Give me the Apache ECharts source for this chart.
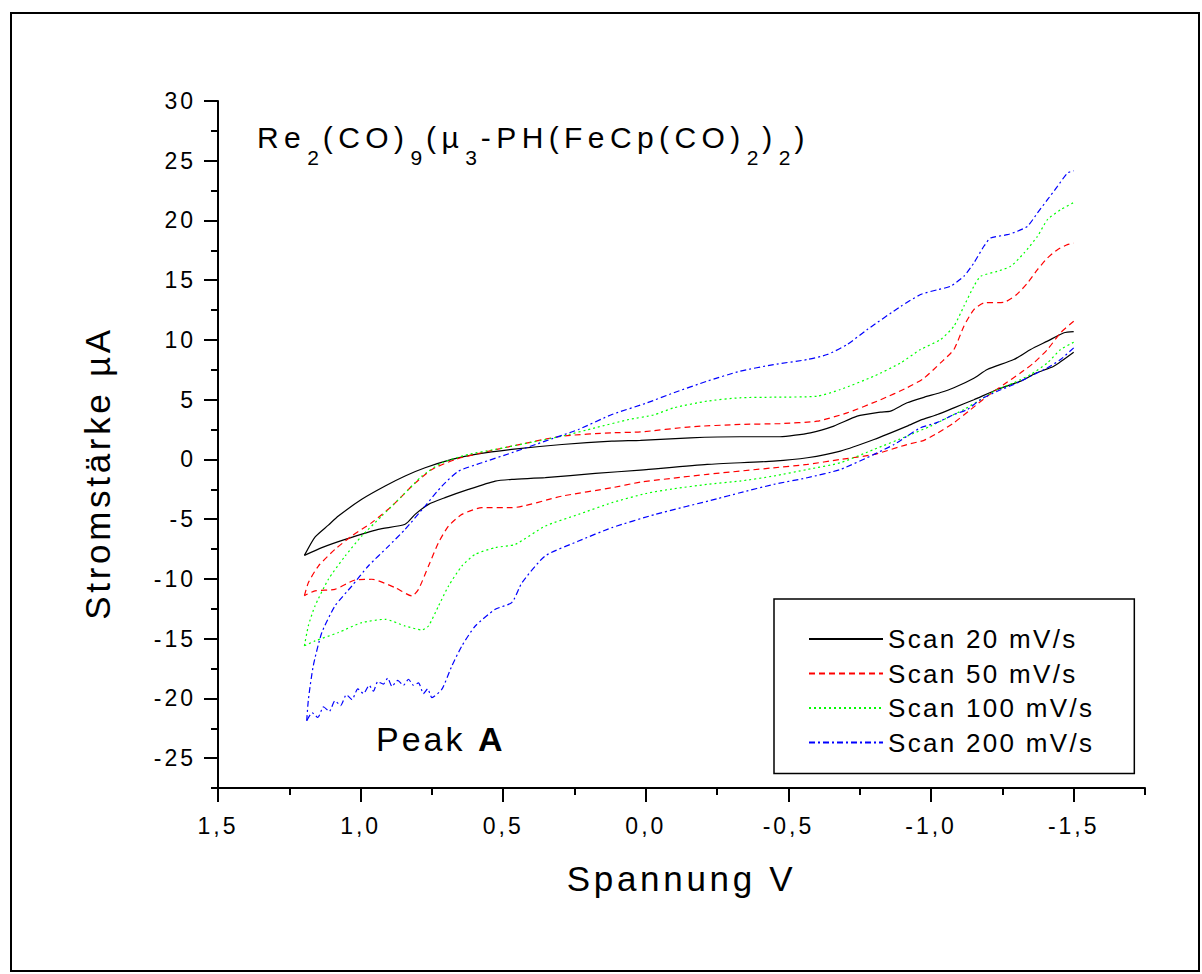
<!DOCTYPE html>
<html>
<head>
<meta charset="utf-8">
<script src="https://cdn.jsdelivr.net/npm/echarts@6/dist/echarts.min.js"></script>
<style>
    html, body { margin: 0; padding: 0; background: #fff; }
    #chart { width: 1202px; height: 974px; }
    /* wide letter spacing of the original export, chosen by font size */
    #chart text[style*="23px"] { letter-spacing: 3px; }
    #chart text[style*="26px"] { letter-spacing: 2.3px; }
    #chart text[style*="35px"] { letter-spacing: 3.7px; }
    #chart text[style*="34px"] { letter-spacing: 3px; }
    #chart text[style*="30px"] { letter-spacing: 5.4px; }
</style>
</head>
<body>
<div id="chart"></div>
<script>
// [Spannung V, Stromstärke µA]; forward scan 1.2 V -> -1.5 V, reverse scan -1.5 V -> 1.2 V
const scan20Fwd = [
    [1.197, -8.03], [1.16, -6.5], [1.113, -5.5], [1.078, -4.74], [0.996, -3.34],
    [0.914, -2.23], [0.844, -1.39], [0.774, -0.7], [0.68, 0.0], [0.598, 0.42],
    [0.47, 0.84], [0.294, 1.25], [0.119, 1.53], [0.019, 1.6], [-0.156, 1.81],
    [-0.33, 1.9], [-0.47, 1.9], [-0.577, 2.23], [-0.659, 2.79], [-0.741, 3.62],
    [-0.823, 3.96], [-0.858, 4.04], [-0.916, 4.74], [-0.975, 5.2], [-1.033, 5.6],
    [-1.08, 6.0], [-1.15, 6.8], [-1.197, 7.53], [-1.29, 8.36], [-1.349, 9.2],
    [-1.408, 9.9], [-1.466, 10.6], [-1.5, 10.7]
];
const scan20Rev = [
    [-1.5, 8.97], [-1.43, 7.8], [-1.37, 7.25], [-1.314, 6.55], [-1.232, 5.85],
    [-1.15, 5.0], [-1.08, 4.32], [-1.022, 3.76], [-0.963, 3.29], [-0.916, 2.79],
    [-0.8, 1.67], [-0.682, 0.7], [-0.566, 0.14], [-0.448, -0.14], [-0.215, -0.42],
    [0.019, -0.89], [0.177, -1.17], [0.353, -1.53], [0.47, -1.67], [0.528, -1.81],
    [0.622, -2.51], [0.704, -3.2], [0.762, -3.76], [0.809, -4.6], [0.844, -5.43],
    [0.938, -5.85], [1.054, -6.69], [1.136, -7.38], [1.197, -8.03]
];
const scan50Fwd = [
    [1.197, -11.4], [1.183, -10.3], [1.148, -8.92], [1.09, -7.53], [1.031, -6.41],
    [0.961, -5.29], [0.89, -3.9], [0.82, -2.23], [0.75, -0.84], [0.668, 0.0],
    [0.575, 0.56], [0.47, 1.11], [0.294, 1.95], [0.119, 2.23], [0.019, 2.3],
    [-0.156, 2.73], [-0.33, 2.93], [-0.47, 3.0], [-0.6, 3.2], [-0.706, 3.9],
    [-0.823, 5.0], [-0.916, 6.0], [-0.975, 6.8], [-1.033, 8.08], [-1.08, 9.2],
    [-1.115, 11.15], [-1.15, 12.54], [-1.185, 13.1], [-1.255, 13.15], [-1.3, 13.8],
    [-1.338, 14.77], [-1.373, 15.89], [-1.408, 16.86], [-1.443, 17.56], [-1.478, 17.98],
    [-1.5, 18.1]
];
const scan50Rev = [
    [-1.5, 11.56], [-1.454, 10.6], [-1.408, 9.2], [-1.36, 8.08], [-1.314, 7.25],
    [-1.255, 6.27], [-1.197, 5.29], [-1.139, 4.18], [-1.08, 3.07], [-1.022, 2.2],
    [-0.975, 1.6], [-0.916, 1.25], [-0.8, 0.42], [-0.682, 0.0], [-0.566, -0.42],
    [-0.448, -0.7], [-0.215, -1.25], [0.019, -1.9], [0.119, -2.37], [0.294, -3.07],
    [0.47, -4.04], [0.575, -4.04], [0.645, -4.6], [0.692, -5.58], [0.727, -6.97],
    [0.762, -8.92], [0.797, -10.87], [0.82, -11.43], [0.879, -10.73], [0.961, -10.03],
    [1.019, -10.09], [1.09, -10.87], [1.16, -11.0], [1.197, -11.4]
];
const scan100Fwd = [
    [1.197, -15.6], [1.183, -13.9], [1.16, -12.27], [1.113, -10.03], [1.054, -8.08],
    [0.996, -6.41], [0.926, -4.74], [0.855, -3.07], [0.785, -1.39], [0.715, -0.28],
    [0.622, 0.42], [0.528, 0.84], [0.411, 1.39], [0.294, 1.95], [0.177, 2.65],
    [0.06, 3.34], [-0.027, 3.72], [-0.098, 4.32], [-0.215, 4.88], [-0.33, 5.16],
    [-0.448, 5.21], [-0.6, 5.29], [-0.682, 5.85], [-0.8, 6.97], [-0.893, 8.08],
    [-0.963, 9.2], [-1.033, 10.03], [-1.08, 11.15], [-1.115, 12.82], [-1.15, 14.49],
    [-1.174, 15.33], [-1.232, 15.74], [-1.279, 16.16], [-1.326, 17.28], [-1.373, 18.67],
    [-1.408, 20.07], [-1.454, 20.9], [-1.5, 21.5]
];
const scan100Rev = [
    [-1.5, 9.81], [-1.454, 9.2], [-1.408, 8.08], [-1.349, 7.11], [-1.29, 6.41],
    [-1.232, 5.85], [-1.174, 5.02], [-1.115, 4.18], [-1.057, 3.49], [-0.998, 2.79],
    [-0.916, 1.95], [-0.8, 0.84], [-0.682, -0.28], [-0.566, -0.84], [-0.448, -1.39],
    [-0.33, -1.81], [-0.215, -2.09], [-0.098, -2.45], [0.0, -2.85], [0.119, -3.62],
    [0.236, -4.6], [0.353, -5.58], [0.458, -7.11], [0.528, -7.38], [0.598, -7.94],
    [0.645, -8.92], [0.692, -10.6], [0.727, -12.27], [0.762, -13.94], [0.785, -14.27],
    [0.844, -13.94], [0.914, -13.38], [0.996, -13.66], [1.078, -14.49], [1.16, -15.19],
    [1.197, -15.6]
];
const scan200Fwd = [
    [1.189, -21.88], [1.183, -20.07], [1.166, -17.28], [1.136, -14.49], [1.09, -12.27],
    [1.031, -10.6], [0.973, -8.92], [0.902, -7.25], [0.844, -5.85], [0.774, -3.9],
    [0.715, -2.23], [0.657, -0.98], [0.575, -0.28], [0.47, 0.56], [0.353, 1.53],
    [0.236, 2.51], [0.119, 3.76], [0.0, 4.7], [-0.098, 5.58], [-0.215, 6.55],
    [-0.33, 7.38], [-0.448, 7.94], [-0.566, 8.36], [-0.636, 8.78], [-0.706, 9.62],
    [-0.776, 10.87], [-0.893, 12.8], [-0.963, 13.8], [-1.022, 14.2], [-1.068, 14.49],
    [-1.115, 15.33], [-1.15, 16.44], [-1.185, 17.84], [-1.209, 18.54], [-1.267, 18.81],
    [-1.302, 19.09], [-1.338, 19.51], [-1.373, 20.63], [-1.408, 21.74], [-1.443, 22.85],
    [-1.478, 23.97], [-1.5, 24.16]
];
const scan200Rev = [
    [-1.5, 9.34], [-1.454, 8.36], [-1.408, 7.67], [-1.349, 6.97], [-1.29, 6.27],
    [-1.232, 5.71], [-1.174, 5.02], [-1.127, 4.18], [-1.08, 3.76], [-1.022, 3.1],
    [-0.963, 2.65], [-0.916, 1.95], [-0.87, 1.25], [-0.8, 0.42], [-0.682, -0.84],
    [-0.566, -1.53], [-0.448, -2.09], [-0.33, -2.79], [-0.25, -3.29], [-0.033, -4.6],
    [0.119, -5.71], [0.236, -6.83], [0.353, -8.08], [0.434, -10.31], [0.47, -11.98],
    [0.528, -12.54], [0.598, -13.94], [0.645, -15.61], [0.68, -17.28], [0.715, -19.23],
    [0.75, -19.93], [0.765, -19.2], [0.78, -19.6], [0.797, -18.7], [0.815, -18.9],
    [0.832, -18.4], [0.85, -18.9], [0.87, -18.5], [0.89, -19.0], [0.905, -18.3],
    [0.92, -18.8], [0.94, -18.6], [0.955, -19.4], [0.97, -18.9], [0.99, -19.6],
    [1.01, -19.2], [1.03, -20.1], [1.05, -19.7], [1.07, -20.6], [1.09, -20.2],
    [1.11, -21.1], [1.13, -20.7], [1.15, -21.6], [1.17, -21.2], [1.189, -21.88]
];

const seriesNames = ['Scan 20 mV/s', 'Scan 50 mV/s', 'Scan 100 mV/s', 'Scan 200 mV/s'];
const xMajor = [1.5, 1.0, 0.5, 0.0, -0.5, -1.0, -1.5];
const xMinor = [1.25, 0.75, 0.25, -0.25, -0.75, -1.25, -1.75];
const yMajor = [-25, -20, -15, -10, -5, 0, 5, 10, 15, 20, 25, 30];
const yMinor = [-27.5, -22.5, -17.5, -12.5, -7.5, -2.5, 2.5, 7.5, 12.5, 17.5, 22.5, 27.5];

const FONT = "'Liberation Sans', Arial, sans-serif";
const FORMULA_LS = 5.4;
const PEAK_LS = 3;

const chart = echarts.init(document.getElementById('chart'), null, { renderer: 'svg' });

const axisLine = { show: true, onZero: false, lineStyle: { color: '#000', width: 2 } };
const tickStyle = { color: '#000', width: 2 };

const makeLine = (name, data, color, type) => ({
    name: name,
    type: 'line',
    data: data,
    xAxisIndex: 0,
    yAxisIndex: 0,
    symbol: 'none',
    showSymbol: false,
    smooth: 0.2,
    lineStyle: { color: color, width: 1.2, type: type },
    itemStyle: { color: color },
    emphasis: { disabled: true }
});

// main formula text, with right padding that makes room for the css letter spacing
const mainPart = n => ({
    fontSize: 30, fontFamily: FONT, lineHeight: 30, verticalAlign: 'top',
    padding: [0, n * FORMULA_LS, 0, 0]
});

const option = {
    animation: false,
    backgroundColor: '#fff',
    textStyle: { fontFamily: FONT },
    grid: { left: 218, top: 101, right: 57, bottom: 186, containLabel: false },
    legend: {
        orient: 'vertical',
        left: 774,
        top: 599,
        padding: [25, 70, 16, 34],
        itemGap: 4.5,
        itemWidth: 74,
        itemHeight: 20,
        borderColor: '#000',
        borderWidth: 1.5,
        itemStyle: { opacity: 0, borderWidth: 0 },
        textStyle: { fontSize: 26, color: '#000', fontFamily: FONT, lineHeight: 30 },
        data: seriesNames
    },
    xAxis: [
        {
            type: 'value',
            inverse: true,
            min: -1.75,
            max: 1.5,
            position: 'bottom',
            axisLine: axisLine,
            axisTick: { show: true, customValues: xMajor, length: 14, lineStyle: tickStyle },
            axisLabel: {
                customValues: xMajor,
                margin: 26,
                fontSize: 23,
                color: '#000',
                fontFamily: FONT,
                formatter: v => v.toFixed(1).replace('.', ',')
            },
            splitLine: { show: false },
            name: 'Spannung V',
            nameLocation: 'middle',
            nameGap: 73,
            nameTextStyle: { fontSize: 35, color: '#000', fontFamily: FONT }
        },
        {
            type: 'value',
            inverse: true,
            min: -1.75,
            max: 1.5,
            position: 'bottom',
            axisLine: { show: false, onZero: false },
            axisTick: { show: true, customValues: xMinor, length: 7, lineStyle: tickStyle },
            axisLabel: { show: false },
            splitLine: { show: false }
        }
    ],
    yAxis: [
        {
            type: 'value',
            min: -27.5,
            max: 30,
            position: 'left',
            axisLine: axisLine,
            axisTick: { show: true, customValues: yMajor, length: 14, lineStyle: tickStyle },
            axisLabel: { customValues: yMajor, margin: 22, fontSize: 23, color: '#000', fontFamily: FONT },
            splitLine: { show: false }
        },
        {
            type: 'value',
            min: -27.5,
            max: 30,
            position: 'left',
            axisLine: { show: false, onZero: false },
            axisTick: { show: true, customValues: yMinor, length: 7, lineStyle: tickStyle },
            axisLabel: { show: false },
            splitLine: { show: false }
        }
    ],
    graphic: [
        {
            type: 'rect',
            silent: true,
            shape: { x: 11, y: 13, width: 1188, height: 958 },
            style: { fill: 'none', stroke: '#000', lineWidth: 2 }
        },
        {
            type: 'text',
            x: 97,
            y: 473,
            rotation: Math.PI / 2,
            style: {
                text: 'Stromstärke µA',
                fontSize: 35,
                fontFamily: FONT,
                fill: '#000',
                textAlign: 'center',
                textVerticalAlign: 'middle'
            }
        },
        {
            type: 'text',
            left: 257,
            top: 122,
            style: {
                text: '{m2|Re}{s|2}{m4|(CO)}{s|9}{m2|(µ}{s|3}{m12|-PH(FeCp(CO)}{s|2}{m1|)}{s|2}{m1|)}',
                fontFamily: FONT,
                fill: '#000',
                rich: {
                    m1: mainPart(1),
                    m2: mainPart(2),
                    m4: mainPart(4),
                    m12: mainPart(12),
                    s: { fontSize: 21, fontFamily: FONT, lineHeight: 46, verticalAlign: 'bottom', padding: [0, 4, 0, 1] }
                }
            }
        },
        {
            type: 'text',
            left: 376,
            top: 722,
            style: {
                text: '{p|Peak }{b|A}',
                fill: '#000',
                fontFamily: FONT,
                rich: {
                    p: { fontSize: 34, fontFamily: FONT, padding: [0, 5 * PEAK_LS, 0, 0] },
                    b: { fontSize: 34, fontFamily: FONT, fontWeight: 'bold' }
                }
            }
        }
    ],
    series: [
        makeLine(seriesNames[0], scan20Fwd, '#000000', 'solid'),
        makeLine(seriesNames[0], scan20Rev, '#000000', 'solid'),
        makeLine(seriesNames[1], scan50Fwd, '#ff0000', [6, 4]),
        makeLine(seriesNames[1], scan50Rev, '#ff0000', [6, 4]),
        makeLine(seriesNames[2], scan100Fwd, '#00ff00', [2, 3]),
        makeLine(seriesNames[2], scan100Rev, '#00ff00', [2, 3]),
        makeLine(seriesNames[3], scan200Fwd, '#0000ff', [6, 3, 2, 3]),
        makeLine(seriesNames[3], scan200Rev, '#0000ff', [6, 3, 2, 3])
    ]
};

chart.setOption(option);
window.addEventListener('resize', () => chart.resize());
</script>
</body>
</html>
